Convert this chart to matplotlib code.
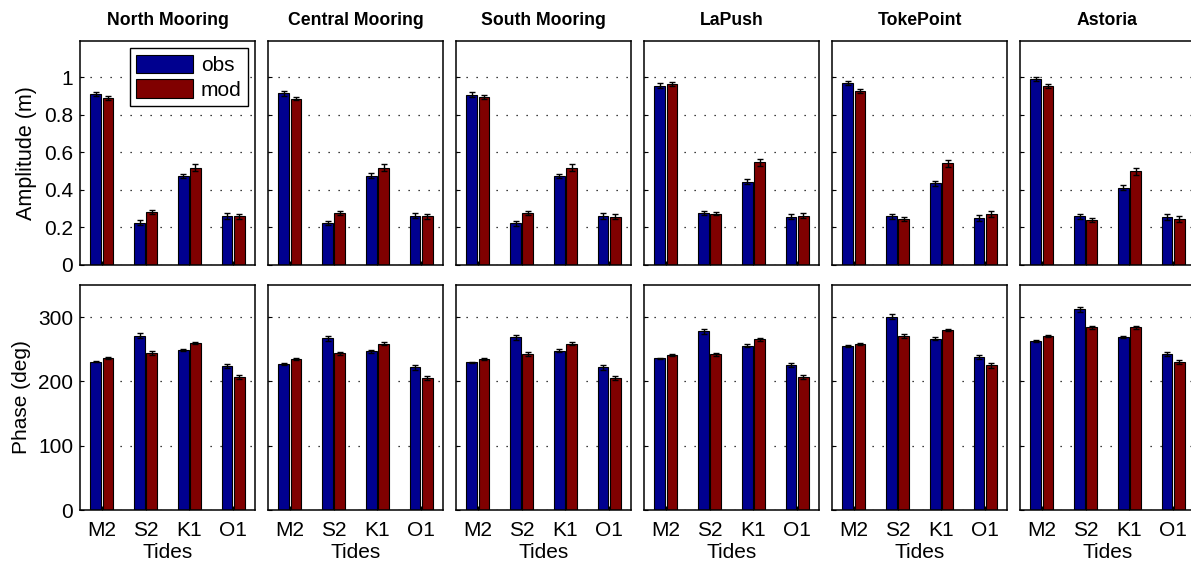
import matplotlib
matplotlib.use("Agg")
import matplotlib.pyplot as plt
import numpy as np

plt.rcParams['font.family'] = ['Liberation Sans', 'DejaVu Sans']

stations = ["North Mooring", "Central Mooring", "South Mooring", "LaPush", "TokePoint", "Astoria"]
tides = ["M2", "S2", "K1", "O1"]

amp_obs = {
    "North Mooring":   [0.910, 0.226, 0.473, 0.260],
    "Central Mooring": [0.914, 0.224, 0.476, 0.263],
    "South Mooring":   [0.908, 0.222, 0.475, 0.261],
    "LaPush":          [0.956, 0.277, 0.444, 0.258],
    "TokePoint":       [0.969, 0.259, 0.435, 0.251],
    "Astoria":         [0.992, 0.259, 0.412, 0.256],
}
amp_mod = {
    "North Mooring":   [0.889, 0.281, 0.519, 0.260],
    "Central Mooring": [0.887, 0.277, 0.519, 0.259],
    "South Mooring":   [0.894, 0.279, 0.519, 0.258],
    "LaPush":          [0.963, 0.274, 0.547, 0.263],
    "TokePoint":       [0.926, 0.245, 0.542, 0.272],
    "Astoria":         [0.955, 0.240, 0.499, 0.245],
}
pha_obs = {
    "North Mooring":   [231.0, 271.0, 249.0, 224.0],
    "Central Mooring": [227.4, 267.4, 246.6, 221.7],
    "South Mooring":   [229.5, 269.0, 247.7, 222.0],
    "LaPush":          [235.7, 277.7, 255.5, 225.3],
    "TokePoint":       [255.5, 300.6, 266.4, 238.3],
    "Astoria":         [262.8, 312.0, 269.0, 242.5],
}
pha_mod = {
    "North Mooring":   [236.0, 244.5, 259.6, 206.7],
    "Central Mooring": [235.2, 243.5, 258.6, 205.6],
    "South Mooring":   [234.7, 243.0, 258.6, 205.6],
    "LaPush":          [241.0, 242.0, 265.3, 207.0],
    "TokePoint":       [258.0, 270.5, 280.0, 224.8],
    "Astoria":         [270.5, 284.0, 284.0, 230.0],
}
amp_err_obs = [0.012, 0.012, 0.012, 0.015]
amp_err_mod = [0.010, 0.010, 0.018, 0.014]
pha_err_obs = [1.5, 4.0, 2.0, 3.5]
pha_err_mod = [1.5, 3.0, 2.0, 3.5]
amp_ticks = [0, 0.2, 0.4, 0.6, 0.8, 1.0]
amp_ticklabels = ['0', '0.2', '0.4', '0.6', '0.8', '1']
pha_ticks = [0, 100, 200, 300]

c_obs = '#00008F'
c_mod = '#800000'

W, H = 1191, 565
fig = plt.figure(figsize=(W / 100, H / 100), dpi=100)

lefts = [80 + 188 * i for i in range(6)]
pw = 175
rows = [(40.7, 265.0), (285.0, 510.0)]

x = np.arange(1, 5)
off = 0.14
bw = 0.25
FS = 15
ekw = dict(ecolor='black', elinewidth=1, capsize=2.2, capthick=1)


def style(ax, yt, ylim, show_x):
    ax.set_xlim(0.5, 4.5)
    ax.set_ylim(*ylim)
    ax.set_yticks(yt)
    ax.set_axisbelow(True)
    ax.yaxis.grid(True, linestyle=(0, (1, 7)), color='black', linewidth=0.9)
    ax.tick_params(direction='in', length=3, labelsize=FS, width=0.8)
    ax.tick_params(axis='y', pad=5)
    ax.set_xticks(x)
    if show_x:
        ax.set_xticklabels(tides)
        ax.set_xlabel("Tides", fontsize=FS, labelpad=2)
        ax.tick_params(axis='x', pad=8)
    else:
        ax.set_xticklabels([])
    for s in ax.spines.values():
        s.set_linewidth(1.1)


for i, st in enumerate(stations):
    # amplitude
    y0, y1 = rows[0]
    ax = fig.add_axes([lefts[i] / W, (H - y1) / H, pw / W, (y1 - y0) / H])
    ax.bar(x - off, amp_obs[st], bw, color=c_obs, edgecolor='black', linewidth=0.8,
           yerr=amp_err_obs, error_kw=ekw, label='obs')
    ax.bar(x + off, amp_mod[st], bw, color=c_mod, edgecolor='black', linewidth=0.8,
           yerr=amp_err_mod, error_kw=ekw, label='mod')
    style(ax, amp_ticks, (0, 1.195), False)
    ax.set_yticklabels(amp_ticklabels if i == 0 else [])
    ax.set_title(st, fontsize=12.7, fontweight='bold', pad=11)
    if i == 0:
        ax.set_ylabel("Amplitude (m)", fontsize=15.5, labelpad=5)
        leg = ax.legend(loc='upper right', bbox_to_anchor=(0.958, 0.966), borderaxespad=0,
                        fontsize=FS, fancybox=False, edgecolor='black', framealpha=1,
                        handlelength=2.75, handleheight=1.0, handletextpad=0.35,
                        borderpad=0.3, labelspacing=0.2)
        leg.get_frame().set_linewidth(1.0)

    # phase
    y0, y1 = rows[1]
    ax = fig.add_axes([lefts[i] / W, (H - y1) / H, pw / W, (y1 - y0) / H])
    ax.bar(x - off, pha_obs[st], bw, color=c_obs, edgecolor='black', linewidth=0.8,
           yerr=pha_err_obs, error_kw=ekw)
    ax.bar(x + off, pha_mod[st], bw, color=c_mod, edgecolor='black', linewidth=0.8,
           yerr=pha_err_mod, error_kw=ekw)
    style(ax, pha_ticks, (0, 350), True)
    if i != 0:
        ax.set_yticklabels([])
    else:
        ax.set_ylabel("Phase (deg)", fontsize=FS, labelpad=5)

fig.savefig("out.png", dpi=100)
